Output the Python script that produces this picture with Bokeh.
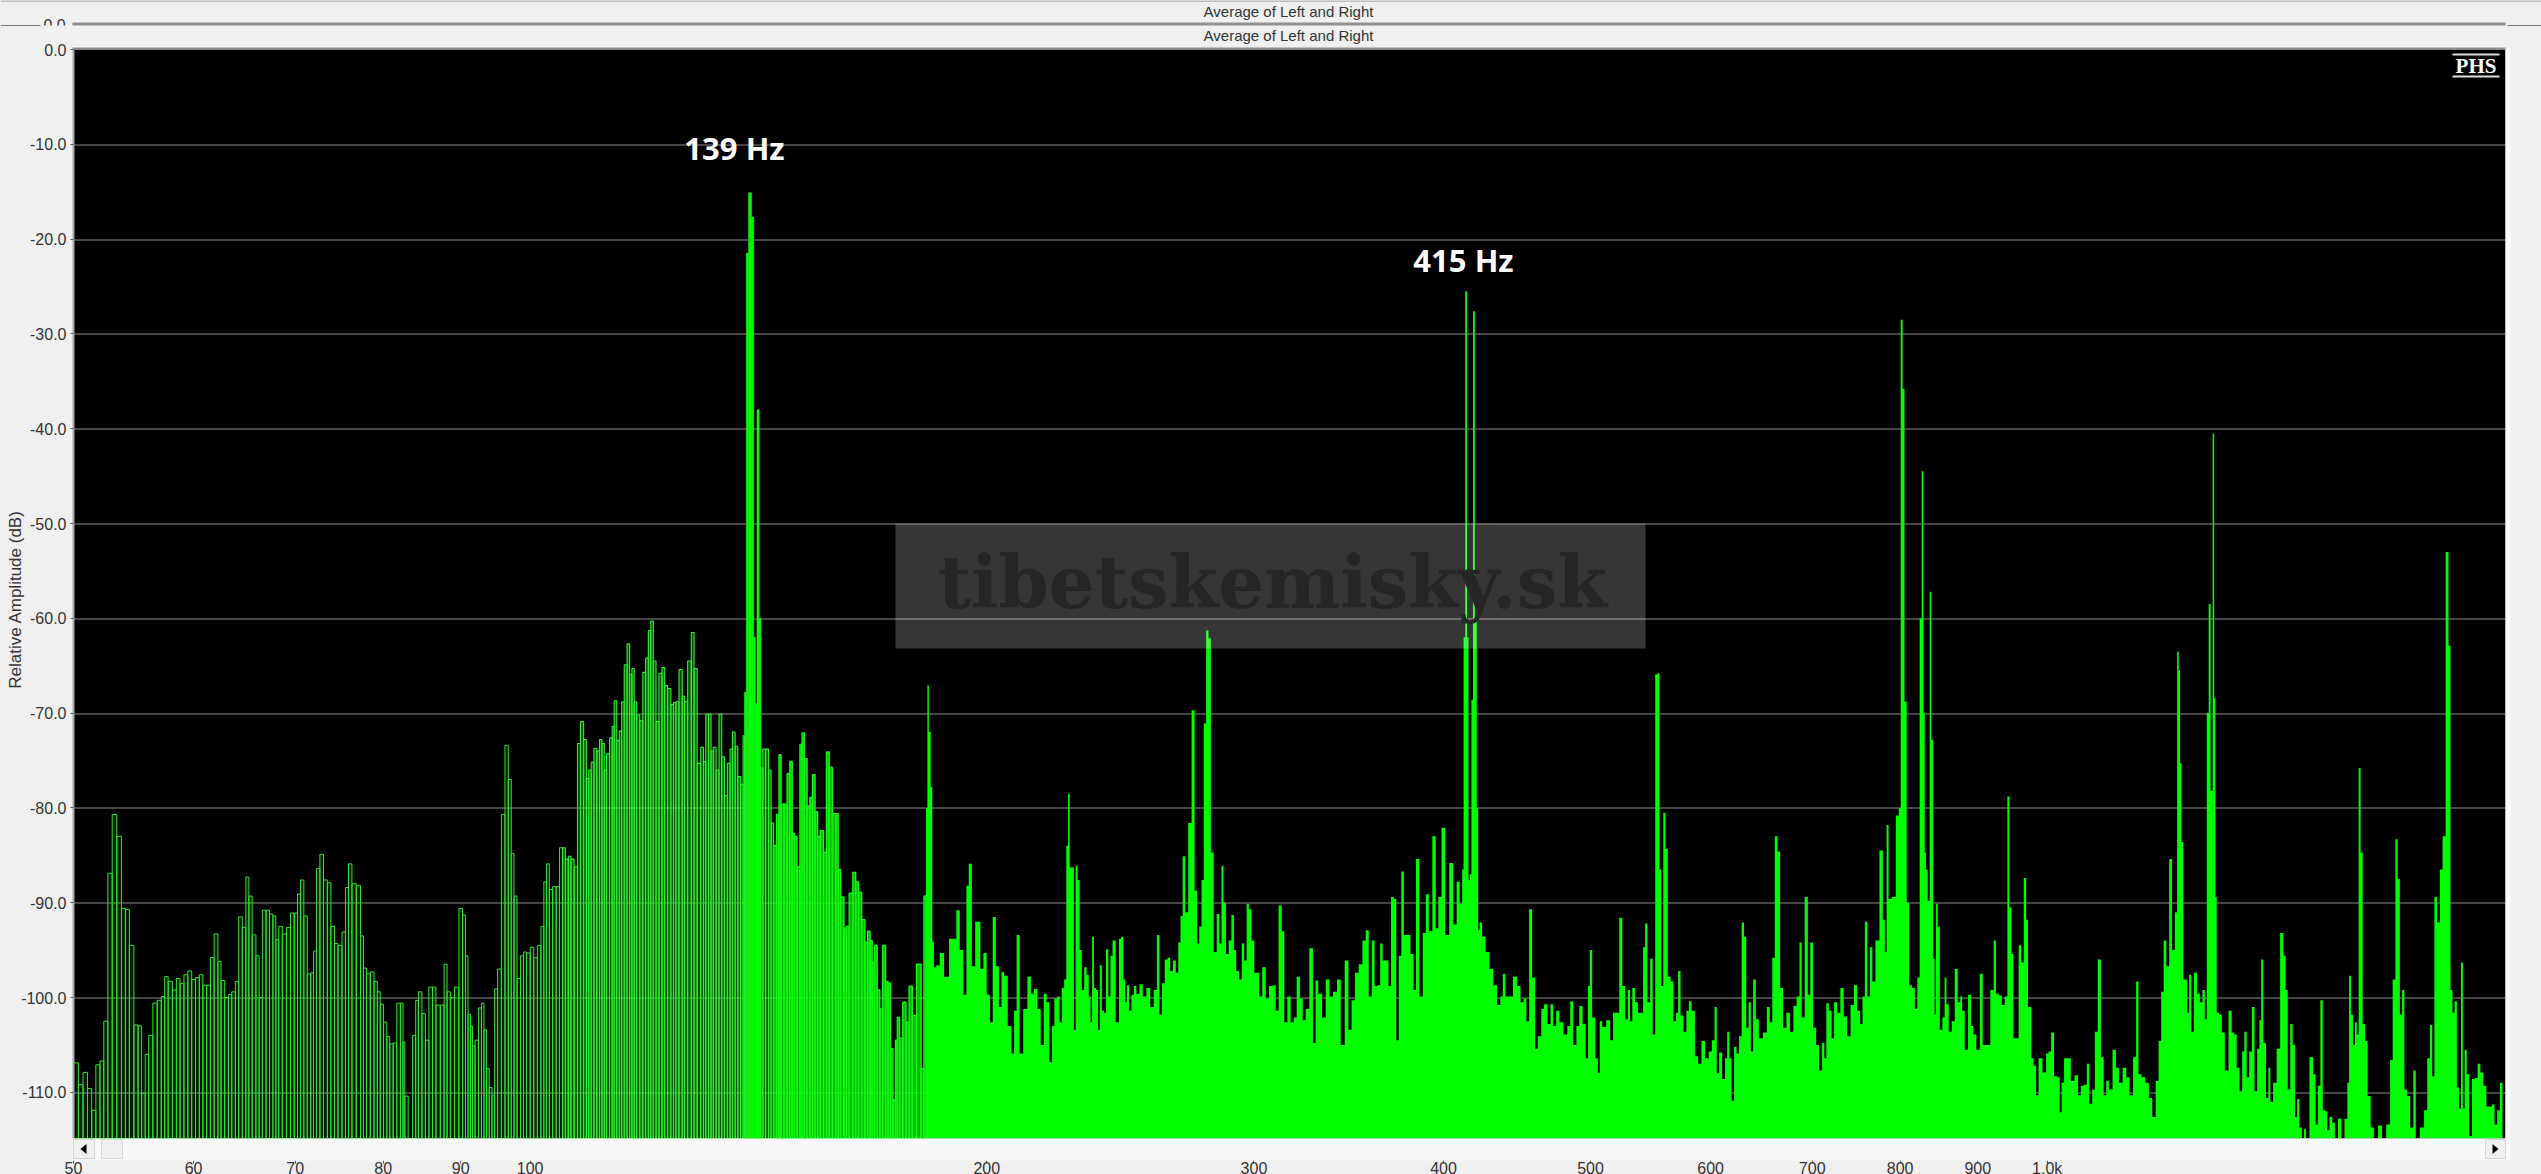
import numpy as np
from bokeh.plotting import figure
from bokeh.embed import file_html
from bokeh.resources import INLINE
from bokeh.models import (Range1d, FixedTicker, NumeralTickFormatter, Label, BoxAnnotation,
                          PolyAnnotation, ColumnDataSource)

TITLE = "Average of Left and Right"
Y_LABEL = "Relative Amplitude (dB)"
WATERMARK = "tibetskemisky.sk"
x_ticks = [50, 60, 70, 80, 90, 100, 200, 300, 400, 500, 600, 700, 800, 900, 1000]
x_tick_labels = ["50", "60", "70", "80", "90", "100", "200", "300", "400", "500", "600", "700", "800", "900", "1.0k"]
y_ticks = [0, -10, -20, -30, -40, -50, -60, -70, -80, -90, -100, -110]
peak_hz = [139, 415]
FLOOR_DB = -114.87

# (Hz, dB), 50-103 Hz: separate bars
bars_50_103 = [(50.2,-106.9),(50.55,-109.2),(50.9,-107.9),(51.25,-109.6),(51.55,-111.9),(51.9,-107.1),(52.2,-106.7),(52.5,-102.5),(52.85,-86.9),(53.2,-80.7),
(53.6,-83),(53.95,-90.6),(54.25,-90.7),(54.6,-94.5),(55,-102.9),(55.3,-103),(55.6,-110.1),(55.9,-106),(56.2,-104),(56.6,-100.6),
(56.95,-100.3),(57.3,-99.9),(57.55,-97.8),(57.9,-98.3),(58.3,-99.2),(58.6,-98),(58.95,-98.5),(59.3,-97.6),(59.65,-97.2),(60,-98.1),
(60.35,-97.9),(60.7,-97.6),(61,-98.7),(61.4,-98.7),(61.7,-95.8),(62.1,-93.3),(62.4,-96.2),(62.7,-98.2),(63.1,-100),(63.4,-99.7),
(63.75,-99.4),(64.1,-98.3),(64.4,-91.5),(64.8,-92.6),(65.1,-87.3),(65.4,-89.3),(65.75,-93.4),(66.15,-95.6),(66.4,-100),(66.8,-90.8),
(67.15,-90.8),(67.5,-91.2),(67.85,-91.4),(68.1,-93.9),(68.45,-92.5),(68.85,-93.3),(69.3,-92.6),(69.7,-91.1),(70.1,-91.1),(70.4,-89.1),
(70.75,-87.6),(71.1,-91.4),(71.5,-97.5),(71.85,-97.4),(72.1,-95.1),(72.5,-86.4),(72.85,-84.9),(73.3,-87.6),(73.7,-87.9),(74.1,-92.5),
(74.5,-94.3),(74.9,-94.5),(75.4,-93.1),(75.7,-88.4),(76.1,-85.9),(76.5,-88),(77.1,-88.2),(77.5,-93.5),(77.8,-96.9),(78.2,-97.5),
(78.7,-97.3),(79.1,-98.3),(79.5,-99.4),(79.8,-100.7),(80.3,-102.6),(80.6,-104.1),(81,-104.9),(81.45,-104.8),(81.9,-100.6),(82.35,-100.6),
(82.55,-104.7),(82.8,-110.4),(83.4,-115),(83.9,-104),(84.2,-100.3),(84.6,-99.4),(85.1,-101.7),(85.5,-104.5),(86,-98.9),(86.45,-98.9),
(86.9,-100.8),(87.6,-100.8),(87.9,-96.5),(88.4,-99.4),(88.8,-100),(89.5,-98.9),(90,-90.6),(90.5,-91.3),(90.8,-95.6),(91.2,-101.8),
(91.5,-103),(91.75,-105.1),(92.2,-104.5),(92.7,-101.1),(93.05,-100.6),(93.4,-103.4),(93.8,-107.5),(94.15,-109.5),(94.6,-110.3),(94.9,-99.1),
(95.45,-97),(96,-80.7),(96.5,-73.4),(96.95,-77),(97.4,-84.8),(97.75,-89.3),(98.3,-98),(98.8,-95.6),(99.2,-95.2),(99.7,-95.3),
(100.3,-94.7),(100.8,-95.8),(101.4,-94.5),(101.9,-92.5),(102.3,-87.8),(102.7,-85.9),(103.2,-88.6)]

# 103-183 Hz: bars getting denser, with the 139 Hz peak
bars_103_183 = [(103.75,-88.3),(104.3,-88.3),(104.8,-84.2),(105.3,-84.2),(105.7,-85.4),(106.2,-85.1),(106.6,-85.4),(107.2,-86.2),(107.7,-73.2),(108.2,-70.9),
(108.7,-72.8),(109.1,-76.9),(109.5,-76),(109.9,-75.2),(110.4,-73.7),(110.9,-74),(111.3,-72.8),(111.7,-73.2),(112.1,-76),(112.5,-74.3),
(113.1,-72.6),(113.4,-71.4),(113.8,-68.7),(114.3,-72.9),(114.7,-71.9),(115.1,-68.8),(115.6,-64.9),(116.1,-62.7),(116.5,-65.9),(116.9,-65.3),
(117.3,-68.8),(117.8,-70.2),(118.4,-70.8),(118.9,-65.7),(119.4,-64.2),(119.9,-61.3),(120.3,-60.3),(120.8,-64.5),(121.3,-70.9),(121.9,-65.8),
(122.4,-65.2),(122.9,-67.1),(123.5,-67.4),(124.1,-69.1),(124.5,-68.9),(125,-68.8),(125.7,-65.4),(126.2,-68.2),(126.6,-68.8),(127.4,-64.5),
(128,-61.5),(128.5,-65.3),(129.2,-75.3),(129.9,-73.6),(130.3,-75.1),(130.8,-70.1),(131.4,-70.1),(131.8,-74),(132.3,-73.6),(132.9,-76),
(133.5,-70.1),(134,-74.6),(134.6,-78.7),(135.2,-75.3),(135.7,-73.8),(136.2,-72),(136.8,-73.5),(137.3,-76.7),(138,-77.5),(138.3,-72.4),
(138.6,-67.8),(139.05,-21.5),(139.6,-15.1),(140.2,-17.7),(140.6,-62),(140.9,-69),(141.3,-38),(141.8,-60),(142.1,-75.8),(142.6,-73.8),
(143.3,-73.8),(143.9,-76),(144.4,-81.6),(145,-84),(145.7,-80.7),(146.1,-74.4),(146.6,-79.6),(147.4,-79.6),(148,-76.4),(148.6,-75.1),
(149.1,-82.7),(149.6,-83),(150.3,-86.2),(150.9,-73.3),(151.3,-72.1),(151.9,-74.8),(152.6,-79.8),(153.2,-78.9),(153.8,-76.5),(154.4,-80.4),
(155,-83),(155.7,-82.4),(156.5,-84.7),(157.1,-74.1),(157.8,-75.7),(158.6,-80.6),(159.4,-80.6),(159.8,-86.5),(160.6,-89.4),(161.4,-92.7),
(161.8,-92.5),(162.8,-89),(163.6,-86.8),(164.2,-87.8),(165,-88.9),(165.8,-91.8),(166.6,-94.2),(167.2,-93),(167.8,-94),(168.3,-96.3),
(169,-94.5),(169.7,-99.2),(170.3,-101.2),(171.2,-94.5),(171.8,-98.3),(172.5,-98.5),(173.1,-105.4),(173.8,-110.8),(174.4,-104.5),(174.8,-102.1),
(175.6,-104.3),(176.5,-100.5),(177.3,-102.6),(178.2,-98.8),(179,-101.9),(180.5,-96.5),(181.5,-107.5),(182.1,-89.3)]

# 183-220 Hz onward: solid spectrum
spec_183_220 = [(182.6,-80),(182.9,-67.1),(183.4,-72),(183.9,-77.8),(184.3,-94.1),(184.8,-96.8),(185.7,-96.6),(186.7,-95.3),(188.2,-97.8),(189.5,-93.8),
(190.4,-93.8),(191.5,-90.8),(192.4,-95),(193.6,-99.7),(194.2,-88.2),(195,-85.9),(196,-96.7),(197,-92),(197.5,-92),(198.6,-97),
(199.3,-95.3),(200.6,-99.7),(201.3,-102.6),(202.3,-91.5),(203.2,-96.7),(204.2,-101),(204.8,-97.3),(205.8,-97.7),(207.1,-103),(208.1,-105.9),
(208.8,-101.4),(209.7,-93.4),(210.7,-105.9),(212,-101.2),(213.4,-97.8),(214.3,-99.6),(215.4,-99.1),(216.5,-101.2),(217.6,-105),(218.5,-99.6),(219.5,-100.5)]

spec_220_463 = [(220.3,-106.8),(221.2,-103),(222,-100.1),(223,-99.9),(223.7,-102.6),(224.5,-99),(225.3,-98.1),(226,-84),(226.5,-78.5),(227.1,-86.3),
(228,-86.3),(228.5,-103.4),(229.2,-86.1),(229.9,-87.6),(230.6,-95),(231.4,-99.2),(232.3,-96.8),(233.1,-97.6),(233.8,-99.9),(234.4,-102.6),
(234.9,-93.6),(235.7,-99),(236.5,-99.2),(237.1,-103.4),(237.7,-96.6),(238.6,-101.4),(239.2,-101.6),(240.1,-94.9),(240.9,-99.9),(241.7,-95.6),
(242.4,-94),(244,-102.6),(244.8,-93.8),(245.6,-93.6),(246.5,-98.1),(247,-100.5),(247.8,-98.7),(248.6,-101.4),(249.6,-99.7),(250.5,-98.8),
(251.4,-99.6),(252.9,-98.6),(253.9,-99.9),(255.7,-99),(256.9,-101),(258.4,-99.2),(259.4,-93.4),(260.4,-101.8),(261.4,-98.5),(262.6,-96),
(263.7,-95.8),(264.6,-97.2),(265.9,-96.1),(267,-97.4),(267.9,-94.2),(268.8,-91.4),(269.7,-85.1),(270.8,-91),(272.2,-81.6),(273.6,-69.7),
(274.7,-88.7),(275.6,-94.3),(276.6,-92.5),(277.5,-87.6),(278.5,-71.1),(279.5,-61.3),(280.5,-62.1),(281.5,-84.7),(282.9,-95.2),(284.1,-91.2),
(285.2,-94.3),(285.9,-86.1),(286.9,-90),(288.1,-95.4),(289.3,-94),(290.5,-91.3),(291.5,-95),(292.5,-97.2),(294,-98.1),(295,-94.3),
(296.2,-96.1),(297.2,-90.1),(298.2,-90.7),(299.6,-94),(300.7,-97.4),(301.8,-97.4),(303,-99.9),(304.6,-96.8),(306.2,-100.1),(307.7,-98.8),
(309.6,-98.7),(310.5,-101.4),(312.4,-90.3),(313.4,-93),(314.9,-102.6),(316.3,-99.9),(318,-102.6),(319.3,-102.1),(320.9,-97.8),(322.4,-100.1),
(323.7,-102.4),(325.3,-101.2),(327.3,-94.8),(328.9,-104.8),(329.9,-98.2),(331.6,-99.6),(333.7,-102.1),(335.4,-98.1),(337.4,-99.9),(339.2,-99.4),
(341.4,-98.1),(343.1,-105),(345.5,-96.1),(347,-103.4),(348.8,-100.3),(350.6,-97.4),(352.8,-96.5),(354.6,-94),(356.4,-92.9),(357.8,-99.9),
(359.6,-94),(360.9,-98.8),(362.7,-98.7),(364,-94.3),(365.4,-96.1),(367.3,-96.1),(368.6,-98.8),(370.2,-89.4),(371.7,-89.6),(373,-104.5),
(374.5,-95.6),(375.9,-86.7),(377.4,-93.4),(379.3,-93.4),(381.6,-95.4),(382.9,-99.2),(384.4,-85.4),(386.8,-99.9),(388.4,-93.2),(390.4,-89.1),
(392,-93),(394.6,-83),(396,-92.7),(397.8,-89.4),(399.8,-82.1),(402.3,-93.4),(404.7,-85.8),(407.2,-92.3),(408.9,-87.8),(411,-90.1),
(412,-86.5),(412.8,-62),(414,-25.5),(415.1,-62),(415.9,-87.6),(416.8,-87),(417.8,-68.6),(418.8,-27.6),(420.2,-60),(421.3,-80),
(422,-92.9),(423,-92.1),(425.3,-93.6),(427.5,-95.2),(430.2,-97),(432.4,-98.7),(435.3,-100.8),(436.8,-99.9),(438.6,-97.5),(440.1,-99.9),(443,-99.9),
(445.9,-97.8),(448.5,-98.8),(450.7,-100.5),(452.9,-100.1),(454.4,-102.5),(456.7,-90.7),(458.5,-97.9),(460.8,-105.4),(462.3,-104.1)]

spec_463_700 = [(463.3,-104.1),(464.7,-101.2),(467.2,-100.7),(469.6,-102.8),(471.5,-100.7),(473.4,-103),(475.8,-101.4),(478.2,-102.6),(481.4,-103.9),(484,-103),
(485.7,-100.4),(488.4,-105),(490.4,-103),(492.7,-100.9),(495.4,-102.8),(497.4,-106.4),(498.9,-98.8),(500.1,-95),(502.4,-102.1),(504.9,-106.4),
(506.4,-108),(507.7,-102.5),(510.2,-103.1),(514,-102.4),(516.2,-104.5),(518.6,-101.6),(521.2,-101.6),(523.4,-91.6),(526,-98.8),(528.1,-102.3),
(530,-99.2),(531.8,-102.5),(533.7,-99),(536.1,-100.5),(538.5,-101.6),(540.6,-101.6),(542.5,-94.7),(543.9,-92.2),(546.3,-100.5),(548.5,-95.9),
(550.5,-103.9),(552.7,-65.9),(554.4,-65.8),(556,-86.5),(557.3,-98.8),(559.5,-80.5),(561,-84.3),(563.4,-97.8),(565.9,-98.3),(568.2,-102.5),
(570.2,-101.6),(572.1,-97.2),(574.4,-101.9),(577.1,-103.6),(579.6,-101.4),(581.4,-100.4),(584.4,-101.4),(587.3,-106.2),(590.2,-107),(593.2,-104.6),
(596.7,-106.4),(599.8,-105.7),(602.5,-104.5),(604.7,-101),(606.6,-108),(609,-105.8),(612.2,-108.6),(614.3,-106.4),(616.2,-103.6),(618.4,-106.4),
(620.5,-110.9),(623,-105.2),(625.2,-105.9),(627.7,-104.1),(630.2,-92.1),(632.2,-93.6),(634.4,-103.2),(636.8,-100.5),(638.7,-105.7),(641.3,-98.1),
(643.9,-102.3),(647.2,-104.3),(652,-103.7),(655,-101),(657.6,-102.6),(660.2,-95.8),(662.6,-83),(665.7,-84.6),(667.8,-99),(671.6,-103.2),
(674.7,-101.6),(678.8,-103.6),(681.9,-100.9),(685.4,-99.9),(687.9,-94.2),(690,-102.1),(694.2,-89.4),(696.6,-99.7),(699.3,-94.2)]

spec_700_975 = [(702.4,-103.2),(706,-105),(708.9,-107.7),(711.8,-104.8),(714.3,-106.4),(716.1,-100.6),(719.7,-101.4),(722.2,-104.3),(725.1,-100.5),(728.8,-101.6),
(732.4,-99),(736.1,-102),(739.9,-104.1),(744.1,-100.8),(747.4,-98.7),(751.3,-101.4),(754.3,-102.8),(756.9,-99.9),(759.6,-92),(762.6,-99.9),
(765.4,-94.7),(768.5,-98.3),(772.5,-94),(778,-84.5),(780.5,-91.8),(782.9,-95.2),(784.5,-81.8),(787.7,-89.6),(792.4,-89.4),(797.2,-80.8),
(799.5,-80),(801.8,-28.5),(804.2,-35.8),(806.4,-68.8),(809.6,-90),(812.4,-98.7),(816.4,-99),(819.7,-101.2),(822.6,-97.9),(825.5,-60),
(827.7,-44.5),(829.8,-70),(831,-84.7),(832.7,-86.5),(835.6,-89.8),(837.7,-57.2),(839.8,-72.8),(842.3,-95.9),(843.6,-101.8),(845.7,-90.1),(848.2,-92.5),
(851.1,-103.4),(854.7,-102.1),(857,-97.9),(859.5,-100.7),(863,-103.6),(867.2,-102.5),(871.1,-97),(875,-100.5),(877.6,-99.9),(880.2,-101.4),
(884.7,-105.5),(889,-99.7),(892.7,-103),(895.4,-103.9),(900.7,-105.5),(905,-97.5),(908.6,-105),(914.4,-105),(920.4,-99.2),(923.7,-94),
(926.7,-99.6),(931.6,-99.8),(935.3,-100.8),(940,-99.9),(942.8,-78.8),(945.6,-90.5),(948.8,-95.4),(951.1,-104.3),(955.8,-104.3),(959.5,-94.5),
(963.2,-96.3),(967,-87.4),(970.2,-91.8),(972.5,-101)]

spec_975_1480 = [(975,-101),(977.5,-106.4),(981.6,-107.2),(985,-110.3),(989,-106.4),(996.8,-107.9),(1000,-105.9),(1004,-105.7),(1008,-103.7),(1013,-108.3),
(1018,-108.4),(1020.5,-112.1),(1024,-109),(1028,-106.4),(1034,-106.4),(1039,-108.8),(1045.8,-108.2),(1050,-110.3),(1054.7,-109.3),(1060,-109.2),
(1064,-107),(1068,-111.2),(1073.5,-109.7),(1076.7,-103.6),(1083,-96),(1087,-106.3),(1092,-110.3),(1095.6,-108.8),(1101,-109.7),(1107.7,-105.5),
(1112.2,-107.4),(1118,-109),(1124.7,-107.4),(1130.3,-108.4),(1136,-110.3),(1142.5,-106.3),(1146.6,-98.3),(1150.7,-108.1),(1157.2,-108.4),(1163.7,-109),
(1170.2,-110.6),(1176,-112.6),(1182,-108.8),(1186.6,-104.6),(1191.3,-99.4),(1195.5,-94),(1201,-96.7),(1206,-85.4),(1211,-95),(1216.6,-91),
(1219.6,-63.5),(1222.5,-65.5),(1224.4,-75.3),(1228,-83.6),(1231,-98.1),(1235,-98.1),(1239,-101.6),(1242,-97.6),(1247,-103.6),(1252,-97.4),
(1258.7,-99.6),(1263,-100.5),(1268.6,-99.2),(1272.3,-102.3),(1276,-70),(1279.7,-58.5),(1283.6,-78.2),(1287.5,-40.5),(1289.6,-68.4),(1292,-89.4),
(1295,-101.6),(1301,-101.8),(1306,-103.7),(1313,-107.7),(1320.8,-101.4),(1325.4,-103.7),(1331,-103.9),(1335.6,-107.4),(1342.4,-109.9),(1346.6,-105.7),
(1351.4,-103.6),(1356,-108.4),(1361.8,-105.7),(1367,-101),(1372.9,-109.9),(1378,-105.4),(1382.4,-102.4),(1385.3,-96),(1391,-104.8),(1396.9,-110.6),
(1401,-107.4),(1405.3,-111),(1413,-109),(1420.4,-105.4),(1428,-93.2),(1434,-95.6),(1438,-99.2),(1443.4,-109.7),(1449,-102.8),(1454,-105),
(1459.3,-112.6),(1463.6,-110.7),(1469,-113.7),(1475,-115),(1478,-113.9)]

spec_1480_2004 = [(1484,-115),(1494,-106.3),(1500.8,-108.1),(1505,-113.4),(1511,-109.3),(1516.8,-100.3),(1522,-111.9),(1527.5,-112),(1532,-114),(1538,-112.6),
(1545,-113.2),(1550,-115),(1560,-112.8),(1566,-115),(1574.7,-112.8),(1579.6,-109),(1583,-97.7),(1588.6,-101.8),(1593,-105),(1598,-102.6),
(1602,-103.9),(1607,-75.8),(1611.6,-84.7),(1617,-102.8),(1623,-104.6),(1630,-110.4),(1638,-113.7),(1646,-115),(1659,-113.5),(1666,-115),
(1680,-113.4),(1686,-106.6),(1693,-98.1),(1700,-83.3),(1705,-87.5),(1711,-101.8),(1716.6,-99.2),(1723,-109.7),(1730,-110.4),(1740,-113.7),
(1746.6,-107.7),(1753,-115),(1768,-113.7),(1776,-111.9),(1785,-106.4),(1791,-102.9),(1797,-108.3),(1803,-89.4),(1811,-92.1),(1819,-86.5),
(1826,-83),(1836,-53),(1842,-62.9),(1847,-99.2),(1853,-101.6),(1859,-100.4),(1866,-109.5),(1871,-111.7),(1877,-96.3),(1882,-111.7),
(1887,-105.5),(1894,-108.1),(1901,-114.6),(1910,-108.6),(1918,-108.5),(1926,-107),(1934,-107.9),(1943.8,-109.3),(1951.6,-111.5),(1960,-111.5),
(1968,-111.3),(1976,-113.4),(1984,-111.9),(1993,-109),(1999,-114.9),(2004,-114.9)]

# ---------- page geometry: the plot's frame fills the whole page ----------
PAGE_W, PAGE_H = 2541, 1174
F_LEFT, F_RIGHT, F_TOP, F_BOTTOM = 73, 2505, 49, 1138     # black area in page pixels
PX_PER_DECADE = 1517.0
PX_PER_DB = 9.48
HZ_MAX = 50 * 10 ** ((F_RIGHT - F_LEFT) / PX_PER_DECADE)

def hz_at(px):
    return 50 * 10 ** ((px - F_LEFT) / PX_PER_DECADE)

def db_at(py):
    return -(py - F_TOP) / PX_PER_DB

p = figure(width=PAGE_W, height=PAGE_H, output_backend="svg", toolbar_location=None,
           x_axis_type="log", x_range=Range1d(hz_at(0), hz_at(PAGE_W)), y_range=Range1d(db_at(PAGE_H), db_at(0)),
           frame_width=PAGE_W, frame_height=PAGE_H,
           min_border_left=0, min_border_top=0, min_border_right=0, min_border_bottom=0,
           background_fill_color="#f0f0f0", border_fill_color="#f0f0f0", outline_line_color=None)

FONT = "Liberation Sans"
GREEN = "#00ff00"

def box(x0, x1, y0, y1, col, line=None, level="annotation"):
    p.add_layout(BoxAnnotation(left=hz_at(x0), right=hz_at(x1), top=db_at(y0), bottom=db_at(y1),
                               fill_color=col, fill_alpha=1, line_color=line, line_width=1, level=level))

# black plot area and grid, below the spectrum
p.xgrid.visible = False
p.ygrid.visible = False
box(F_LEFT, F_RIGHT, F_TOP, F_BOTTOM, "black", level="underlay")
for t in y_ticks[1:]:
    py = round(F_TOP - t * PX_PER_DB)
    box(F_LEFT, F_RIGHT, py, py + 1, "#8c8c8c", level="underlay")

# axes
p.xaxis.fixed_location = db_at(1160)
p.xaxis.bounds = (50, HZ_MAX)
p.xaxis.ticker = FixedTicker(ticks=x_ticks)
p.xaxis.major_label_overrides = {t: s for t, s in zip(x_ticks, x_tick_labels)}
p.xaxis.axis_line_color = None
p.xaxis.major_tick_in = 0
p.xaxis.major_tick_out = 3
p.xaxis.major_tick_line_color = "#555555"
p.xaxis.minor_tick_line_color = None
p.xaxis.major_label_standoff = -4
p.xaxis.major_label_text_font = FONT
p.xaxis.major_label_text_font_size = "16px"
p.xaxis.major_label_text_color = "#333333"

p.yaxis.fixed_location = hz_at(F_LEFT)
p.yaxis.bounds = (FLOOR_DB, 0)
p.yaxis.ticker = FixedTicker(ticks=y_ticks)
p.yaxis.formatter = NumeralTickFormatter(format="0.0")
p.yaxis.axis_line_color = "#a8a8a8"
p.yaxis.axis_line_width = 2
p.yaxis.major_tick_in = 0
p.yaxis.major_tick_out = 3
p.yaxis.major_tick_line_color = "#555555"
p.yaxis.minor_tick_line_color = None
p.yaxis.major_label_standoff = 4
p.yaxis.major_label_text_font = FONT
p.yaxis.major_label_text_font_size = "16px"
p.yaxis.major_label_text_color = "#333333"
p.yaxis.major_label_orientation = "horizontal"

# ---------- bars with outlines, 50-182 Hz ----------
def edges(hz):
    hz = np.asarray(hz, dtype=float)
    mid = np.sqrt(hz[:-1] * hz[1:])
    return np.concatenate([[hz[0] * hz[0] / mid[0]], mid, [hz[-1] * hz[-1] / mid[-1]]])

bars = bars_50_103 + bars_103_183
spec = spec_183_220 + spec_220_463 + spec_463_700 + spec_700_975 + spec_975_1480 + spec_1480_2004
all_hz = [h for h, _ in bars] + [h for h, _ in spec]
all_db = np.array([d for _, d in bars] + [d for _, d in spec])
all_edges = edges(all_hz)
all_edges[0] = 50.0
all_edges[-1] = HZ_MAX
nbars = len(bars)
all_db_clip = np.maximum(all_db, FLOOR_DB)

def draw_bars(i0, i1, lw, alpha, col):
    src = ColumnDataSource(dict(left=all_edges[i0:i1], right=all_edges[i0 + 1:i1 + 1],
                                top=all_db_clip[i0:i1], bottom=[FLOOR_DB] * (i1 - i0)))
    p.quad(left="left", right="right", top="top", bottom="bottom", source=src,
           line_color=col, line_width=lw, fill_color=GREEN, fill_alpha=alpha)

i_a = sum(1 for h, _ in bars if h < 105)
i_s0 = sum(1 for h, _ in bars if h < 138.5)
i_s1 = sum(1 for h, _ in bars if h < 141.95)
i_b = sum(1 for h, _ in bars if h < 145)
draw_bars(0, i_a, 1.0, 0.10, "#2fe42f")
draw_bars(i_a, i_s0, 1.1, 0.30, "#2ff02f")
draw_bars(i_s1, i_b, 1.1, 0.40, "#2ff02f")
draw_bars(i_b, nbars, 1.4, 0.70, "#10f810")
draw_bars(i_s0, i_s1, 0.6, 1.0, "#1cf01c")

# ---------- solid spectrum ----------
sx = all_edges[nbars:]
sy = np.concatenate([all_db_clip[nbars:], [all_db_clip[-1]]])
p.varea_step(x=sx, y1=[FLOOR_DB] * len(sx), y2=sy, step_mode="after", fill_color=GREEN)

# ---------- watermark ----------
p.add_layout(BoxAnnotation(left=hz_at(895), right=hz_at(1645), top=db_at(523), bottom=db_at(648),
                           fill_color="white", fill_alpha=0.21, line_color=None))
p.add_layout(Label(x=hz_at(1272), y=db_at(582), text=WATERMARK, text_align="center", text_baseline="middle",
                   text_font="DejaVu Serif", text_font_style="bold", text_font_size="72px", text_color="#262626"))

# ---------- peak labels ----------
p.add_layout(Label(x=hz_at(734), y=db_at(147), text=f"{peak_hz[0]} Hz", text_align="center", text_baseline="middle",
                   text_font="Noto Sans", text_font_style="bold", text_font_size="31px", text_color="white"))
p.add_layout(Label(x=hz_at(1463), y=db_at(259), text=f"{peak_hz[1]} Hz", text_align="center", text_baseline="middle",
                   text_font="Noto Sans", text_font_style="bold", text_font_size="31px", text_color="white"))

# ---------- PHS mark ----------
p.add_layout(Label(x=hz_at(2475.5), y=db_at(65), text="PHS", text_align="center", text_baseline="middle",
                   text_font="Liberation Serif", text_font_style="bold", text_font_size="21px", text_color="white"))
for y0 in (54, 76):
    box(2452, 2499, y0 - 1, y0 + 1, "#dddddd")

# ---------- window furniture ----------
box(0, PAGE_W, 0, 1, "#8a8a8a")
p.add_layout(Label(x=hz_at(54), y=db_at(24), text="0.0", text_align="center", text_baseline="middle",
                   text_font=FONT, text_font_size="16px", text_color="#333333"))
box(20, 72, 25, 40, "#f0f0f0")
box(72, F_RIGHT, 22, 25, "#909090")
box(72, F_RIGHT, 47, 49, "#8c8c8c")
box(0, 40, 24.5, 25.5, "#777777")
box(2507, PAGE_W, 24.5, 25.5, "#777777")
for yc in (11, 35):
    p.add_layout(Label(x=hz_at(1288), y=db_at(yc), text=TITLE, text_align="center", text_baseline="middle",
                       text_font=FONT, text_font_size="15px", text_color="#333333"))
p.add_layout(Label(x=hz_at(14.5), y=db_at(599), text=Y_LABEL, text_align="center", text_baseline="middle", angle=np.pi / 2,
                   text_font=FONT, text_font_size="17px", text_color="#333333"))

box(72, 2510, F_BOTTOM, 1160, "#f8f8f8")
box(F_RIGHT, 2510, F_TOP, F_BOTTOM, "#fafafa")
box(73, 94, 1139, 1158, "#f0f0f0", "#909090")
box(101, 122, 1139, 1158, "#f0f0f0", "#a0a0a0")
box(2485, F_RIGHT, 1139, 1158, "#f0f0f0", "#909090")
p.add_layout(PolyAnnotation(xs=[hz_at(80), hz_at(86), hz_at(86)], ys=[db_at(1148.5), db_at(1143.5), db_at(1153.5)],
                            fill_color="black", fill_alpha=1, line_color=None))
p.add_layout(PolyAnnotation(xs=[hz_at(2498), hz_at(2492), hz_at(2492)], ys=[db_at(1148.5), db_at(1143.5), db_at(1153.5)],
                            fill_color="black", fill_alpha=1, line_color=None))

html = file_html(p, INLINE)
html = html.replace("</head>", "<style>html,body{background:#f0f0f0;margin:0}</style></head>", 1)
open("out.html", "w").write(html)
